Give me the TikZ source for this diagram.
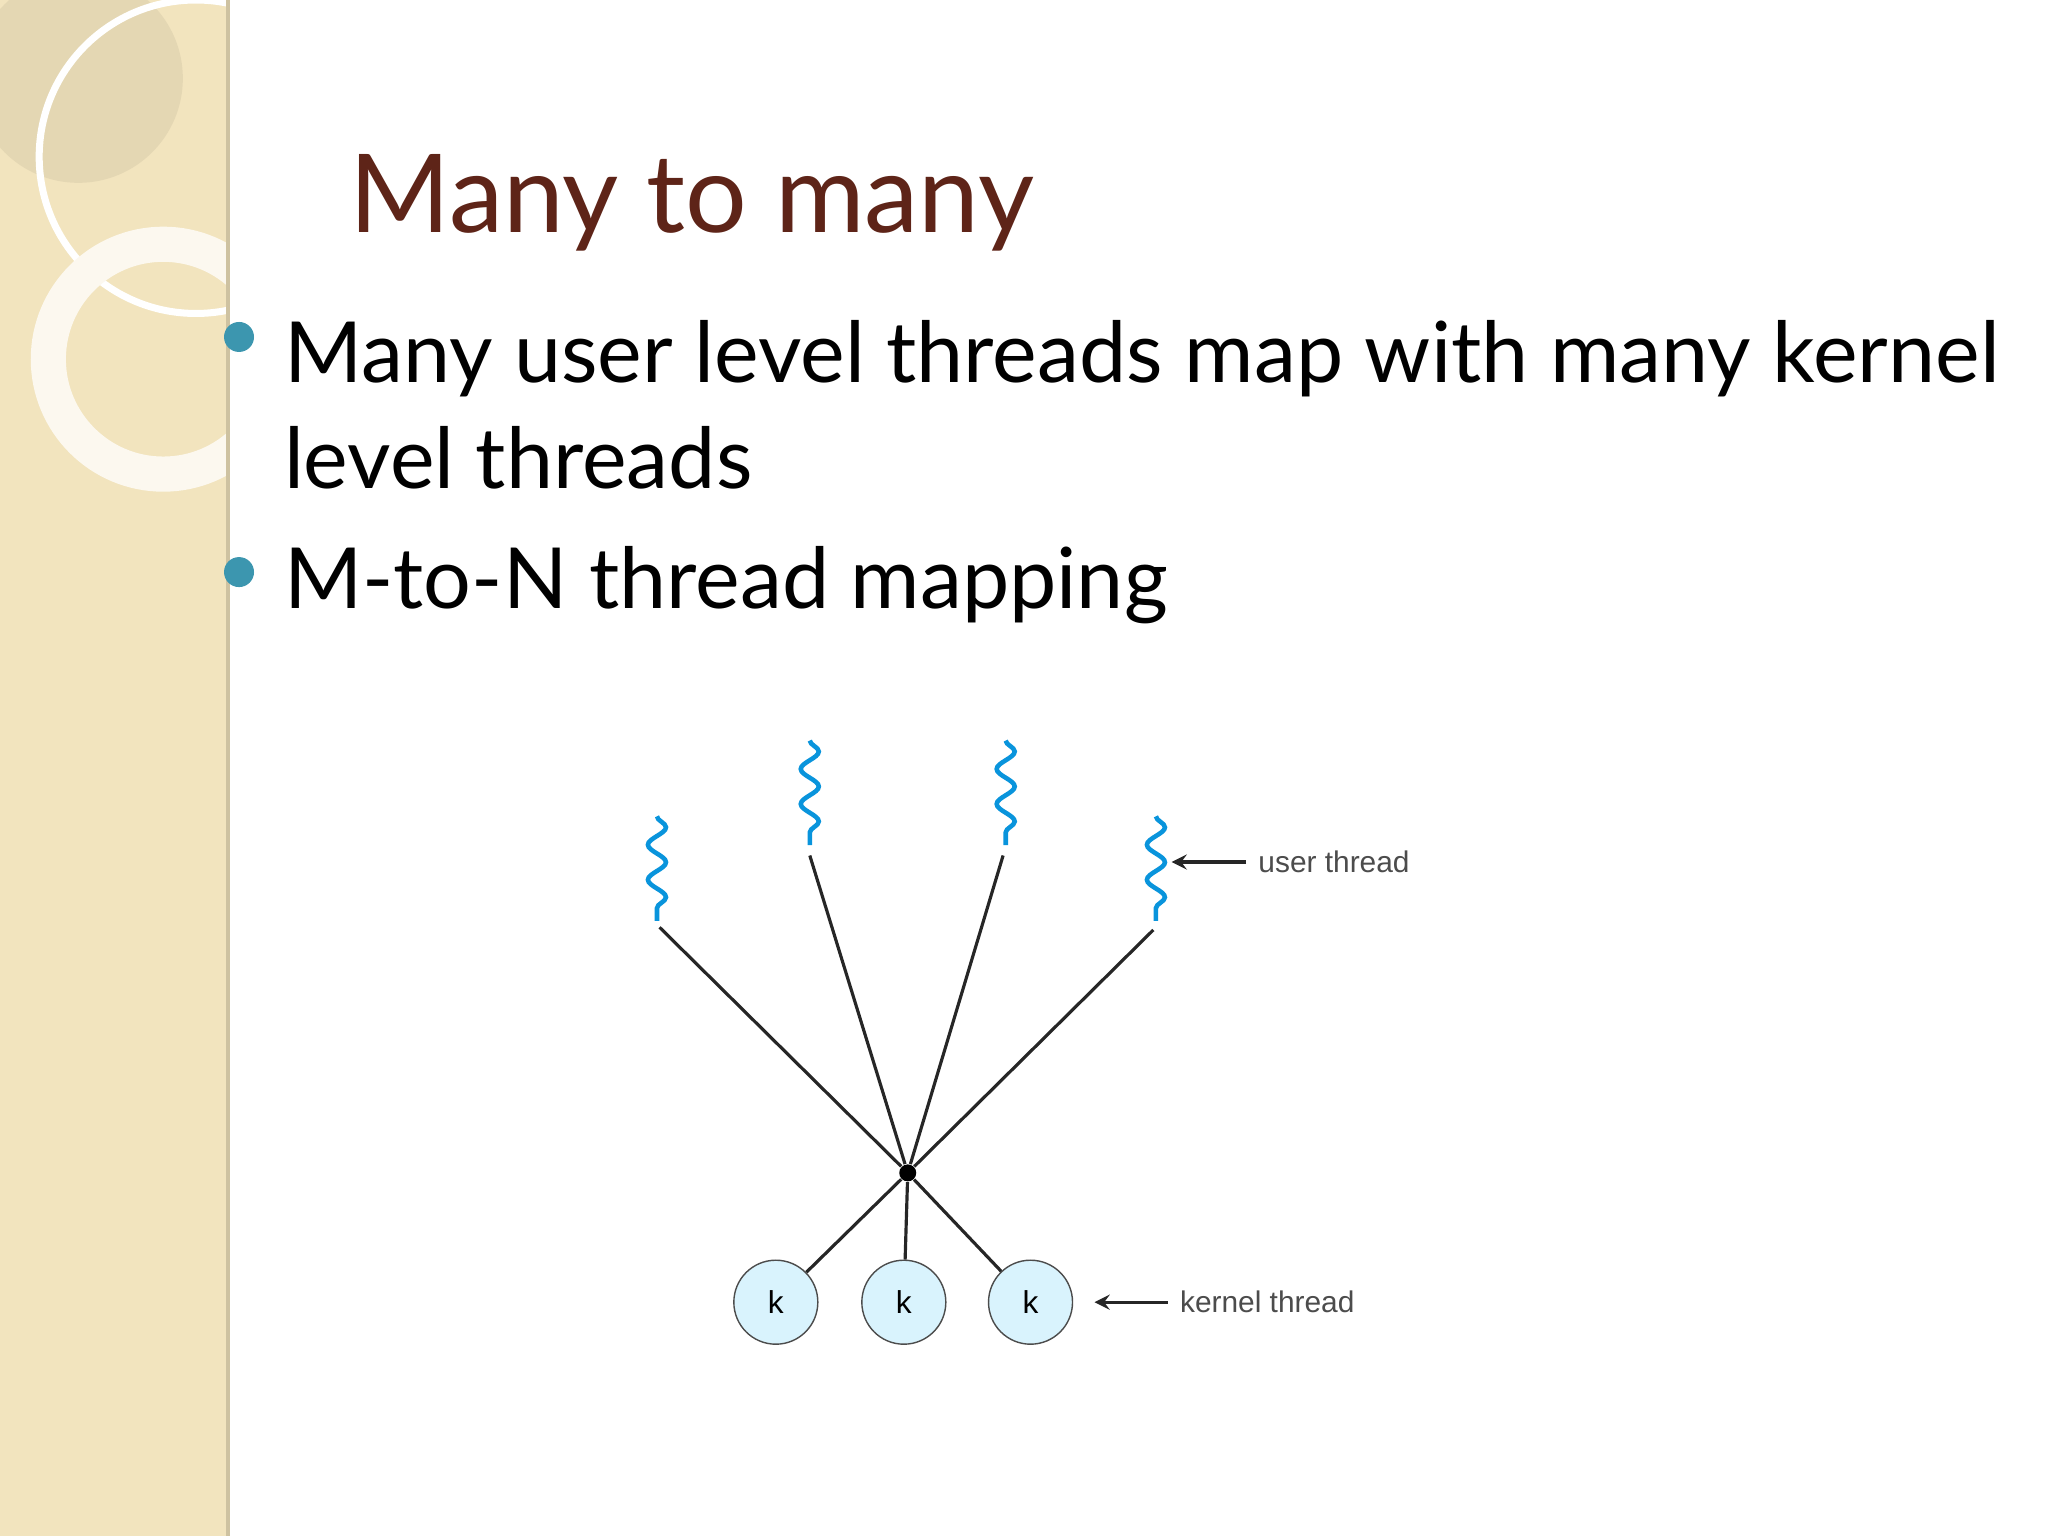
\documentclass[tikz,border=0pt]{standalone}
\usepackage{fontspec}
\usetikzlibrary{decorations.pathmorphing}
\setmainfont{Lato}
\newfontfamily\diafont{Liberation Sans}
\definecolor{titlebrown}{RGB}{94,36,24}
\definecolor{beige}{RGB}{242,228,190}
\definecolor{bulblue}{RGB}{60,150,175}
\begin{document}
\begin{tikzpicture}[x=0.013061cm,y=-0.013061cm,
  wire/.style={line width=0.9pt,black!85},
  wavy/.style={cyan!80!blue,line width=1.3pt,decorate,decoration={snake,amplitude=0.09cm,segment length=0.35cm}},
  kn/.style={circle,draw=black!70,fill=cyan!15,minimum size=0.84cm,inner sep=0pt,font=\diafont\small},
  lbl/.style={font=\diafont\fontsize{8.5}{10}\selectfont,text=black!70,anchor=west},
  bul/.style={circle,fill=bulblue,inner sep=0pt,minimum size=0.3cm}]
\useasboundingbox (0,0) rectangle (1568,1176);
\fill[white] (0,0) rectangle (1568,1176);
\fill[beige] (0,0) rectangle (173,1176);
\fill[black!15!beige] (173,0) rectangle (176,1176);
\begin{scope}
\clip (0,0) rectangle (173,1176);
\fill[black!8!beige,opacity=0.7] (60,60) circle (80);
\draw[white,line width=2pt] (150,120) circle (120);
\draw[white!75!beige,line width=10pt] (125,275) circle (88);
\end{scope}
\node[anchor=west,font=\fontsize{31}{36}\selectfont,text=titlebrown] (title) at (258,155) {Many to many};
\node[bul] (b1) at (183,258) {};
\node[anchor=west,font=\fontsize{24}{30}\selectfont,align=left] (t1) at (208,310) {Many user level threads map with many kernel\\level threads};
\node[bul] (b2) at (183,438) {};
\node[anchor=west,font=\fontsize{24}{30}\selectfont] (t2) at (208,448) {M-to-N thread mapping};
\draw[wavy] (503,625) -- (503,705);
\draw[wavy] (620,567) -- (620,647);
\draw[wavy] (770,567) -- (770,647);
\draw[wavy] (885,625) -- (885,705);
\node[circle,fill=black,inner sep=0pt,minimum size=0.17cm] (c) at (695,898) {};
\draw[wire] (505,710) -- (c);
\draw[wire] (620,655) -- (c);
\draw[wire] (768,655) -- (c);
\draw[wire] (883,712) -- (c);
\node[kn] (k1) at (594,997) {k};
\node[kn] (k2) at (692,997) {k};
\node[kn] (k3) at (789,997) {k};
\draw[wire] (c) -- (k1);
\draw[wire] (c) -- (k2);
\draw[wire] (c) -- (k3);
\node[lbl] (ul) at (954,660) {user thread};
\node[lbl] (kl) at (894,997) {kernel thread};
\coordinate (ua) at (897,660);
\coordinate (ka) at (838,997);
\draw[wire,-stealth] (ul.west) -- (ua);
\draw[wire,-stealth] (kl.west) -- (ka);
\end{tikzpicture}
\end{document}
